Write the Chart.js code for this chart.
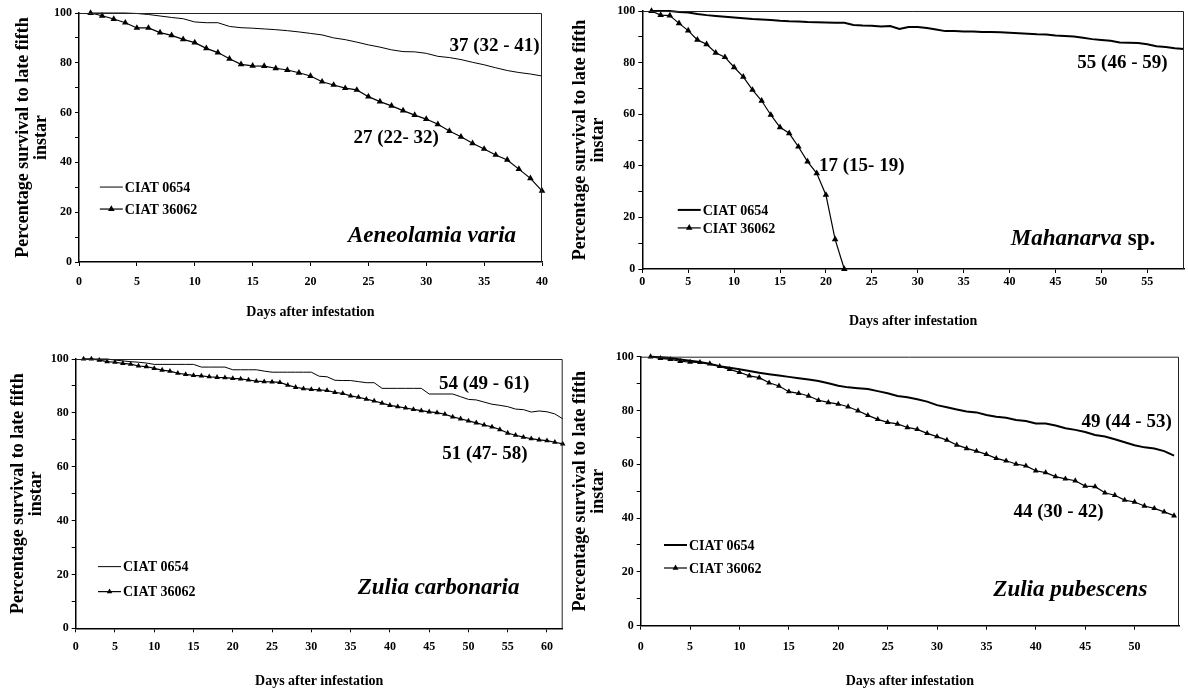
<!DOCTYPE html>
<html>
<head>
<meta charset="utf-8">
<script src="https://cdn.jsdelivr.net/npm/chart.js"></script>
<style>
body{margin:0;background:#fff;width:1188px;height:688px;position:relative;overflow:hidden}
canvas{position:absolute}
</style>
</head>
<body>
<canvas id="g1" width="560" height="335" style="left:0;top:0"></canvas>
<canvas id="g2" width="628" height="335" style="left:560px;top:0"></canvas>
<canvas id="g3" width="570" height="348" style="left:0;top:340px"></canvas>
<canvas id="g4" width="623" height="348" style="left:565px;top:340px"></canvas>
<script>
// dias despues de la infestacion
const dias=[1,2,3,4,5,6,7,8,9,10,11,12,13,14,15,16,17,18,19,20,21,22,23,24,25,26,27,28,29,30,
    31,32,33,34,35,36,37,38,39,40,41,42,43,44,45,46,47,48,49,50,51,52,53,54,55,56,57,58,59,60,61,62]

const series=['CIAT 0654','CIAT 36062']
const tituloX='Days after infestation'
const tituloY=['Percentage survival to late fifth','instar']

// Aeneolamia varia
const varia_0654=[100,100,100,100,99.8,99.4,98.8,98.2,97.7,96.4,96.1,96.1,94.6,94.1,93.9,93.6,93.3,92.9,92.4,91.8,
    91.2,90.0,89.3,88.3,87.2,86.3,85.2,84.5,84.4,83.8,82.6,82.1,81.3,80.2,79.2,78.0,76.9,76.1,75.5,74.7]
const varia_36062=[100,98.9,97.6,96.1,94,94,92.1,91,89.4,88.1,85.8,84.1,81.6,79.4,78.8,78.7,77.8,77.1,76.0,74.7,
    72.4,71.1,69.8,69.1,66.4,64.4,62.7,60.8,59,57.4,55.3,52.6,50.3,47.7,45.4,43,41,37.3,33.6,28.6]
const medianas_varia=['37 (32 - 41)','27 (22- 32)']

// Mahanarva sp.
const mahanarva_0654=[100,100,100,99.6,99.4,98.8,98.4,98.1,97.8,97.5,97.2,96.9,96.7,96.5,96.2,96.0,95.9,95.7,95.6,95.5,
    95.4,95.4,94.6,94.4,94.3,94.0,94.2,93.0,93.8,93.8,93.4,92.8,92.2,92.2,92.1,92.1,91.9,91.9,91.8,91.6,
    91.4,91.2,91.0,90.9,90.5,90.3,90.1,89.6,89.1,88.8,88.5,87.8,87.7,87.6,87.1,86.3,86.0,85.6,85.3]
const mahanarva_36062=[100,98.4,98.2,95.2,92.4,88.8,87.1,83.8,82.1,78.2,74.5,69.4,65.2,59.7,54.9,52.6,47.4,41.6,37.1,28.7,
    11.5,0]
const medianas_mahanarva=['55 (46 - 59)','17 (15- 19)']

// Zulia carbonaria
const carbonaria_0654=[100,100,100,100,99.6,99.3,99.0,98.8,98.5,98.0,98.0,98.0,98.0,98.0,98.0,97.0,97.0,97.0,97.0,96.0,
    96.0,96.0,96.0,95.5,95.1,95.1,95.1,95.1,95.1,95.1,93.6,93.4,92.1,92.0,92.0,91.6,91.2,91.2,89.1,89.1,
    89.1,89.1,89.1,89.1,87.0,87.0,87.0,87.0,86.0,85.0,84.8,84.0,83.2,82.8,82.3,81.4,81.2,80.3,80.7,80.4,
    79.6,77.8]
const carbonaria_36062=[100,100,99.6,99,98.8,98.4,98.1,97.4,97.2,96.5,95.9,95.5,94.7,94.3,93.9,93.7,93.4,93.2,93.1,92.8,
    92.6,92.2,91.8,91.6,91.5,91.3,90.3,89.5,89.0,88.7,88.5,88.3,87.6,87.2,86.3,85.8,85.1,84.4,83.6,82.8,
    82.3,81.8,81.3,80.8,80.4,80.1,79.5,78.5,77.8,77.0,76.3,75.5,74.8,73.8,72.5,71.7,71.0,70.4,70.0,69.7,
    69.1,68.5]
const medianas_carbonaria=['54 (49 - 61)','51 (47- 58)']

// Zulia pubescens
const pubescens_0654=[100,99.8,99.5,99.0,98.5,98.0,97.3,96.5,95.9,95.3,94.7,94.0,93.5,93.0,92.5,92.0,91.5,91.0,90.1,89.2,
    88.6,88.3,88.0,87.2,86.4,85.4,84.9,84.2,83.3,82.0,81.2,80.4,79.6,79.3,78.3,77.7,77.3,76.5,76.1,75.2,
    75.2,74.4,73.4,72.8,72.0,70.9,70.3,69.3,68.2,67.1,66.3,65.9,64.9,63.2]
const pubescens_36062=[100,99.4,99,98.3,98,97.9,97.4,96.4,95.3,94.2,92.9,92.2,90.3,89.1,87,86.4,85.4,83.8,83,82.4,
    81.4,79.9,78.2,76.7,75.6,75.0,73.7,73.0,71.5,70.3,69.0,67.2,65.9,64.9,63.7,62.2,61.3,60.1,59.4,57.6,
    56.9,55.4,54.6,53.9,51.9,51.7,49.4,48.5,46.7,46.0,44.5,43.6,42.3,40.9]
const medianas_pubescens=['49 (44 - 53)','44 (30 - 42)']

const fam='"Liberation Serif", "Times New Roman", serif'

function puntos(valores){
    return valores.map((v,i)=>({x:dias[i],y:v}))
}

// textos, marco y leyenda dibujados dentro del grafico
function adornos(conf){
    return {
        id:'adornos',
        afterDatasetsDraw(chart){
            const ctx=chart.ctx
            const xs=chart.scales.x
            const ys=chart.scales.y
            const a=chart.chartArea
            ctx.save()
            // marco arriba y a la derecha
            ctx.strokeStyle='#222'
            ctx.lineWidth=1
            ctx.beginPath()
            ctx.moveTo(a.left,a.top+0.5)
            ctx.lineTo(a.right-0.5,a.top+0.5)
            ctx.lineTo(a.right-0.5,a.bottom)
            ctx.stroke()

            ctx.fillStyle='#000'
            ctx.textBaseline='middle'
            // medianas
            ctx.font='bold 19px '+fam
            ctx.textAlign='center'
            conf.medianas.forEach((m)=>{
                ctx.fillText(m.texto,xs.getPixelForValue(m.x),ys.getPixelForValue(m.y))
            })
            // nombre de la especie
            ctx.textAlign='left'
            let ancho=0
            conf.especie.partes.forEach((p)=>{
                ctx.font=(p[1]?'italic ':'')+'bold 23px '+fam
                ancho+=ctx.measureText(p[0]).width
            })
            let xe=xs.getPixelForValue(conf.especie.x)-ancho/2
            const ye=ys.getPixelForValue(conf.especie.y)
            conf.especie.partes.forEach((p)=>{
                ctx.font=(p[1]?'italic ':'')+'bold 23px '+fam
                ctx.fillText(p[0],xe,ye)
                xe+=ctx.measureText(p[0]).width
            })
            // leyenda
            const x0=xs.getPixelForValue(conf.leyenda.x)
            chart.data.datasets.forEach((ds,i)=>{
                const y=ys.getPixelForValue(conf.leyenda.y)+i*conf.leyenda.gap
                ctx.strokeStyle='#000'
                ctx.lineWidth=ds.borderWidth
                ctx.beginPath()
                ctx.moveTo(x0,y)
                ctx.lineTo(x0+23,y)
                ctx.stroke()
                if(ds.pointRadius>0){
                    Chart.helpers.drawPoint(ctx,{pointStyle:'triangle',radius:ds.pointRadius,borderWidth:0,rotation:0},x0+11.5,y)
                }
                ctx.font='bold 14px '+fam
                ctx.fillText(ds.label,x0+25,y+1)
            })
            ctx.restore()
        }
    }
}

function grafico(id,serie1,serie2,conf){
    const ctx=document.getElementById(id)
    new Chart(ctx,{
        type:'line',
        data:{
            datasets:[{
                label:series[0],
                data:puntos(serie1),
                borderColor:'#000',
                backgroundColor:'#000',
                borderWidth:conf.grosor,
                pointRadius:0,
                tension:0,
                clip:false
            },
            {
                label:series[1],
                data:puntos(serie2),
                borderColor:'#000',
                backgroundColor:'#000',
                borderWidth:1.2,
                pointStyle:'triangle',
                pointRadius:conf.tri,
                pointBackgroundColor:'#000',
                pointBorderWidth:0,
                tension:0,
                clip:false
            }]
        },
        options:{
            responsive:false,
            animation:false,
            events:[],
            layout:{padding:conf.margen},
            plugins:{legend:{display:false},tooltip:{enabled:false}},
            scales:{
                x:{
                    type:'linear',
                    min:0,
                    max:conf.maxX,
                    afterFit:(s)=>{s.height=conf.altoX},
                    ticks:{stepSize:5,includeBounds:false,padding:conf.padX,color:'#000',maxRotation:0,
                        font:{family:fam,size:12,weight:'bold'}},
                    grid:{drawOnChartArea:false,tickLength:4,color:'#000'},
                    border:{color:'#000',width:1.5},
                    title:{display:true,text:tituloX,color:'#000',
                        font:{family:fam,size:14,weight:'bold',lineHeight:1},
                        padding:{top:0,bottom:conf.padTituloX}}
                },
                y:{
                    min:0,
                    max:100,
                    afterFit:(s)=>{s.width=conf.anchoY},
                    ticks:{stepSize:10,padding:3,color:'#000',
                        callback:(v)=>v%20===0?v:'',
                        font:{family:fam,size:12,weight:'bold'}},
                    grid:{drawOnChartArea:false,tickLength:4,color:'#000'},
                    border:{color:'#000',width:1.5},
                    title:{display:true,text:tituloY,color:'#000',
                        font:{family:fam,size:18,weight:'bold',lineHeight:1},
                        padding:{top:conf.padTituloY,bottom:0}}
                }
            }
        },
        plugins:[adornos(conf)]
    })
}

grafico('g1',varia_0654,varia_36062,{
    grosor:1, tri:3.8, maxX:40,
    margen:{top:13,right:18,left:0,bottom:0},
    anchoY:79, altoX:73, padX:9, padTituloX:16, padTituloY:14,
    medianas:[{texto:medianas_varia[0],x:35.9,y:86.7},{texto:medianas_varia[1],x:27.4,y:49.8}],
    especie:{partes:[['Aeneolamia varia',true]],x:30.5,y:10.4},
    leyenda:{x:1.8,y:30.1,gap:22}
})

grafico('g2',mahanarva_0654,mahanarva_36062,{
    grosor:2, tri:3.8, maxX:59,
    margen:{top:11,right:3.7,left:0,bottom:0},
    anchoY:82.3, altoX:66, padX:2, padTituloX:6.5, padTituloY:11,
    medianas:[{texto:medianas_mahanarva[0],x:52.3,y:80.0},{texto:medianas_mahanarva[1],x:23.9,y:39.9}],
    especie:{partes:[['Mahanarva',true],[' sp.',false]],x:48.0,y:11.6},
    leyenda:{x:3.86,y:22.9,gap:18}
})

grafico('g3',carbonaria_0654,carbonaria_36062,{
    grosor:1, tri:3.2, maxX:62,
    margen:{top:19,right:7.3,left:0,bottom:0},
    anchoY:75.7, altoX:59.7, padX:7.7, padTituloX:0, padTituloY:9.3,
    medianas:[{texto:medianas_carbonaria[0],x:52.0,y:90.7},{texto:medianas_carbonaria[1],x:52.1,y:64.7}],
    especie:{partes:[['Zulia carbonaria',true]],x:46.2,y:15.0},
    leyenda:{x:2.84,y:22.9,gap:25}
})

grafico('g4',pubescens_0654,pubescens_36062,{
    grosor:2, tri:3.4, maxX:54.5,
    margen:{top:16.7,right:9,left:0,bottom:0},
    anchoY:75.7, altoX:62.3, padX:10.3, padTituloX:0, padTituloY:6,
    medianas:[{texto:medianas_pubescens[0],x:49.2,y:75.8},{texto:medianas_pubescens[1],x:42.3,y:42.4}],
    especie:{partes:[['Zulia pubescens',true]],x:43.5,y:13.3},
    leyenda:{x:2.36,y:30,gap:23}
})
</script>
</body>
</html>
